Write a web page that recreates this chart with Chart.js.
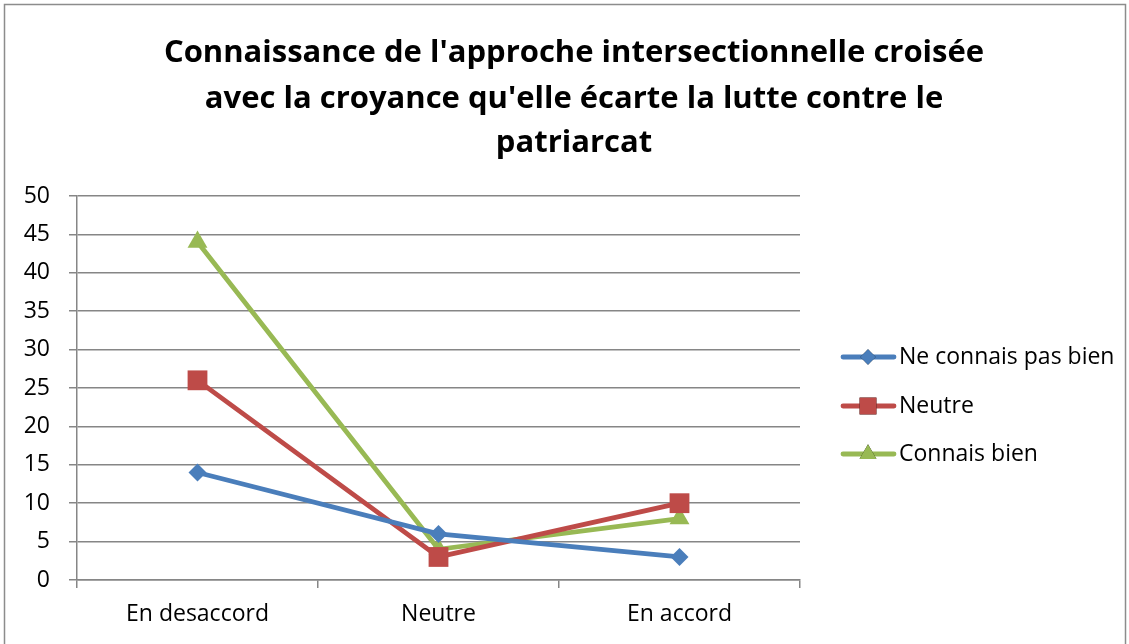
<!DOCTYPE html>
<html><head><meta charset="utf-8">
<script src="https://cdn.jsdelivr.net/npm/chart.js@4"></script>
<style>
html,body{margin:0;padding:0;background:#fff;}
#wrap{position:relative;width:1129px;height:644px;}
</style></head>
<body><div id="wrap"><canvas id="c" width="1129" height="644"></canvas></div>
<script>
const titleLines = ["Connaissance de l'approche intersectionnelle croisée", "avec la croyance qu'elle écarte la lutte contre le", "patriarcat"];
const categories = ["En desaccord", "Neutre", "En accord"];
const seriesNames = ["Ne connais pas bien", "Neutre", "Connais bien"];
const neConnaisPasBien = [14, 6, 3];
const neutre = [26, 3, 10];
const connaisBien = [44, 4, 8];
const yTicks = [0, 5, 10, 15, 20, 25, 30, 35, 40, 45, 50];

const FONT = "'Open Sans', Lato, sans-serif";
const colors = ['#4A7EBB', '#BE4B48', '#98B954'];
const styles = ['rectRot', 'rect', 'triangle'];
const radii = [9, 14, 11.5];

const decorPlugin = {
  id: 'decor',
  afterDraw(chart) {
    const ctx = chart.ctx;
    ctx.save();
    // frame
    ctx.strokeStyle = '#8c8c8c';
    ctx.lineWidth = 1.5;
    ctx.strokeRect(4.5, 4.5, 1121, 660);
    // title
    ctx.fillStyle = '#000';
    ctx.font = "bold 31px " + FONT;
    ctx.textAlign = 'center';
    ctx.textBaseline = 'middle';
    const ty = [53, 99, 143];
    titleLines.forEach((t, i) => ctx.fillText(t, 574, ty[i]));
    // legend
    const rows = [357, 406, 454];
    chart.data.datasets.forEach((ds, i) => {
      const y = rows[i];
      ctx.strokeStyle = ds.borderColor;
      ctx.lineWidth = 4.8;
      ctx.lineCap = 'round';
      ctx.beginPath(); ctx.moveTo(843, y); ctx.lineTo(894, y); ctx.stroke();
      Chart.helpers.drawPoint(ctx, {pointStyle: ds.pointStyle, radius: ds.pointRadius * 0.85, borderWidth: 0, rotation: 0}, 868, y);
      ctx.fillStyle = ds.backgroundColor;
      ctx.fill();
      ctx.fillStyle = '#000';
      ctx.font = "23px " + FONT;
      ctx.textBaseline = 'middle';
      ctx.textAlign = 'left';
      ctx.fillText(ds.label, 899, y);
    });
    ctx.restore();
  }
};

const datasets = [neConnaisPasBien, neutre, connaisBien].map((d, i) => ({
  label: seriesNames[i],
  data: d,
  borderColor: colors[i],
  backgroundColor: colors[i],
  pointBackgroundColor: colors[i],
  pointBorderWidth: 0,
  pointStyle: styles[i],
  pointRadius: radii[i],
  borderWidth: 4.8,
  tension: 0
}));

new Chart(document.getElementById('c'), {
  type: 'line',
  data: { labels: categories, datasets },
  plugins: [decorPlugin],
  options: {
    responsive: false,
    animation: false,
    devicePixelRatio: 1,
    layout: { padding: { left: 0, right: 329, top: 196, bottom: 0 } },
    plugins: {
      legend: { display: false },
      tooltip: { enabled: false },
      title: { display: false }
    },
    scales: {
      x: {
        offset: true,
        grid: { display: true, drawOnChartArea: false, drawTicks: true, tickLength: 8, offset: true, color: '#868686', lineWidth: 1.5 },
        border: { display: true, color: '#868686', width: 1.5 },
        ticks: { color: '#000', font: { family: FONT, size: 23 }, padding: 13, maxRotation: 0 },
        afterFit(s) { s.height = 64; }
      },
      y: {
        min: 0, max: 50,
        afterBuildTicks(s) { s.ticks = yTicks.map(v => ({ value: v })); },
        grid: { color: '#868686', lineWidth: 1.5, tickLength: 8 },
        border: { display: true, color: '#868686', width: 1.5 },
        ticks: { color: '#000', font: { family: FONT, size: 23 }, padding: 19 },
        afterFit(s) { s.width = 77; }
      }
    }
  }
});
</script></body></html>
